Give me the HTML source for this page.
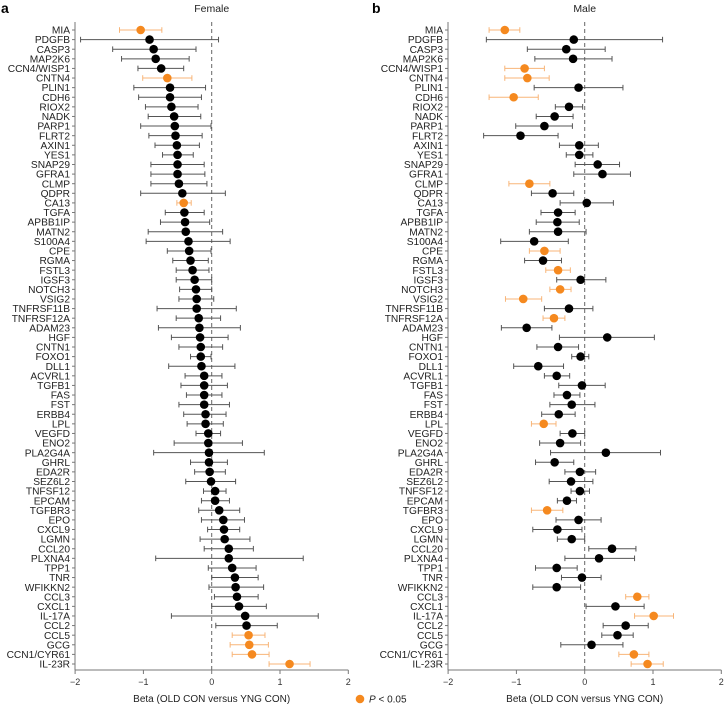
<!DOCTYPE html>
<html><head><meta charset="utf-8"><style>
html,body{margin:0;padding:0;background:#fff;}
svg{display:block;font-family:"Liberation Sans",sans-serif;}
</style></head><body>
<svg id="chart" width="724" height="706" viewBox="0 0 724 706"></svg>
<script>
const genes = ["MIA","PDGFB","CASP3","MAP2K6","CCN4/WISP1","CNTN4","PLIN1","CDH6","RIOX2","NADK","PARP1","FLRT2","AXIN1","YES1","SNAP29","GFRA1","CLMP","QDPR","CA13","TGFA","APBB1IP","MATN2","S100A4","CPE","RGMA","FSTL3","IGSF3","NOTCH3","VSIG2","TNFRSF11B","TNFRSF12A","ADAM23","HGF","CNTN1","FOXO1","DLL1","ACVRL1","TGFB1","FAS","FST","ERBB4","LPL","VEGFD","ENO2","PLA2G4A","GHRL","EDA2R","SEZ6L2","TNFSF12","EPCAM","TGFBR3","EPO","CXCL9","LGMN","CCL20","PLXNA4","TPP1","TNR","WFIKKN2","CCL3","CXCL1","IL-17A","CCL2","CCL5","GCG","CCN1/CYR61","IL-23R"];
const femaleBeta = [-1.04,-0.91,-0.85,-0.82,-0.74,-0.65,-0.61,-0.61,-0.59,-0.55,-0.54,-0.53,-0.51,-0.5,-0.5,-0.5,-0.48,-0.43,-0.41,-0.4,-0.39,-0.38,-0.34,-0.33,-0.31,-0.28,-0.25,-0.23,-0.22,-0.22,-0.19,-0.18,-0.17,-0.16,-0.16,-0.15,-0.11,-0.11,-0.11,-0.11,-0.09,-0.09,-0.05,-0.05,-0.04,-0.04,-0.03,-0.01,0.05,0.05,0.11,0.17,0.18,0.19,0.25,0.25,0.3,0.34,0.35,0.37,0.4,0.49,0.51,0.54,0.55,0.59,1.14];
const femaleLo = [-1.35,-1.92,-1.45,-1.32,-1.08,-1.01,-1.14,-1.07,-0.97,-0.93,-1.04,-0.92,-0.83,-0.72,-0.89,-0.89,-0.89,-1.04,-0.51,-0.68,-0.75,-0.93,-0.96,-0.65,-0.57,-0.52,-0.52,-0.47,-0.48,-0.8,-0.52,-0.78,-0.59,-0.48,-0.31,-0.63,-0.39,-0.45,-0.37,-0.48,-0.41,-0.36,-0.23,-0.55,-0.85,-0.31,-0.25,-0.38,-0.12,-0.15,-0.19,-0.15,-0.06,-0.17,-0.11,-0.82,-0.05,0,-0.04,0.04,0,-0.59,0.06,0.3,0.27,0.3,0.84];
const femaleHi = [-0.73,0.1,-0.23,-0.33,-0.41,-0.29,-0.09,-0.15,-0.2,-0.16,-0.01,-0.14,-0.18,-0.27,-0.11,-0.1,-0.07,0.2,-0.3,-0.11,-0.03,0.16,0.27,-0.01,-0.05,-0.04,0,0,0.03,0.36,0.13,0.42,0.24,0.16,-0.01,0.34,0.15,0.23,0.15,0.26,0.21,0.17,0.13,0.45,0.77,0.23,0.2,0.35,0.21,0.26,0.41,0.48,0.41,0.56,0.61,1.34,0.65,0.68,0.76,0.68,0.8,1.56,0.96,0.78,0.83,0.84,1.44];
const femaleSig = [1,0,0,0,0,1,0,0,0,0,0,0,0,0,0,0,0,0,1,0,0,0,0,0,0,0,0,0,0,0,0,0,0,0,0,0,0,0,0,0,0,0,0,0,0,0,0,0,0,0,0,0,0,0,0,0,0,0,0,0,0,0,0,1,1,1,1];
const maleBeta = [-1.17,-0.16,-0.27,-0.17,-0.88,-0.84,-0.09,-1.04,-0.23,-0.44,-0.59,-0.94,-0.08,-0.08,0.19,0.26,-0.81,-0.47,0.03,-0.39,-0.4,-0.39,-0.74,-0.59,-0.61,-0.39,-0.06,-0.36,-0.9,-0.23,-0.45,-0.85,0.33,-0.39,-0.06,-0.68,-0.41,-0.04,-0.26,-0.19,-0.38,-0.6,-0.18,-0.36,0.31,-0.44,-0.07,-0.2,-0.07,-0.26,-0.55,-0.09,-0.4,-0.19,0.4,0.21,-0.41,-0.04,-0.41,0.77,0.45,1.01,0.6,0.48,0.1,0.72,0.92];
const maleLo = [-1.4,-1.44,-0.84,-0.73,-1.17,-1.17,-0.74,-1.4,-0.43,-0.71,-1.01,-1.48,-0.37,-0.27,-0.14,-0.16,-1.11,-0.78,-0.36,-0.64,-0.71,-0.81,-1.23,-0.81,-0.88,-0.57,-0.41,-0.51,-1.16,-0.59,-0.61,-1.22,-0.37,-0.7,-0.19,-1.04,-0.59,-0.38,-0.45,-0.51,-0.63,-0.78,-0.36,-0.66,-0.5,-0.72,-0.29,-0.52,-0.2,-0.4,-0.78,-0.42,-0.76,-0.4,0.06,-0.29,-0.72,-0.34,-0.76,0.6,0.02,0.73,0.27,0.25,-0.35,0.5,0.68];
const maleHi = [-0.95,1.14,0.3,0.4,-0.59,-0.52,0.56,-0.68,-0.03,-0.17,-0.18,-0.39,0.2,0.12,0.51,0.67,-0.51,-0.16,0.42,-0.14,-0.08,0.02,-0.24,-0.36,-0.34,-0.21,0.31,-0.2,-0.63,0.12,-0.29,-0.48,1.02,-0.09,0.06,-0.31,-0.22,0.3,-0.07,0.15,-0.14,-0.42,0,-0.06,1.11,-0.16,0.16,0.12,0.07,-0.12,-0.32,0.24,-0.04,0,0.75,0.73,-0.11,0.24,-0.06,0.94,0.87,1.3,0.93,0.71,0.56,0.94,1.15];
const maleSig = [1,0,0,0,1,1,0,1,0,0,0,0,0,0,0,0,1,0,0,0,0,0,0,1,0,1,0,1,1,0,1,0,0,0,0,0,0,0,0,0,0,1,0,0,0,0,0,0,0,0,1,0,0,0,0,0,0,0,0,1,0,1,0,0,0,1,1];
const xTicks = [-2,-1,0,1,2];

const NS="http://www.w3.org/2000/svg";
const svg=document.getElementById('chart');
function mk(tag,attrs,parent){const e=document.createElementNS(NS,tag);for(const k in attrs)e.setAttribute(k,attrs[k]);(parent||svg).appendChild(e);return e;}
const Y0=30, Y1=664;
function yPos(i){return Y0+(Y1-Y0)*i/(genes.length-1);}

function panel(ax0,title,letter,beta,lo,hi,sig,key){
  const xs=v=>ax0+136.7+v*68.3;
  const g=mk('g',{});
  
  
  const lt=mk('text',{x:key==='female'?1:372,y:13,'font-size':14,'font-weight':'bold'},g);
  lt.textContent=letter;
  
  
  const tt=mk('text',{x:xs(0),y:12,'font-size':10.5,'text-anchor':'middle',fill:'#222'},g);
  tt.textContent=title;
  
  
  const ya=mk('line',{x1:ax0,y1:22,x2:ax0,y2:670,stroke:'#777','stroke-width':1},g);
  
  
  const xa=mk('line',{x1:ax0,y1:670,x2:xs(2),y2:670,stroke:'#777','stroke-width':1},g);
  
  
  const zl=mk('line',{x1:xs(0),y1:22,x2:xs(0),y2:670,stroke:'#666','stroke-width':1,'stroke-dasharray':'4,3'},g);
  
  
  xTicks.forEach(t=>{
    mk('line',{x1:xs(t),y1:670,x2:xs(t),y2:674,stroke:'#777'},g);
    const tl=mk('text',{x:xs(t),y:685,'font-size':9,'text-anchor':'middle',fill:'#333'},g);
    tl.textContent=(t<0?'\u2212'+(-t):String(t));
    
    
  });
  const xl=mk('text',{x:xs(0),y:702,'font-size':10,'text-anchor':'middle',fill:'#222'},g);
  xl.textContent='Beta (OLD CON versus YNG CON)';
  
  
  genes.forEach((gn,i)=>{
    const y=yPos(i);
    mk('line',{x1:ax0-3,y1:y,x2:ax0,y2:y,stroke:'#777'},g);
    const lb=mk('text',{x:ax0-5,y:y+3.6,'font-size':10.2,'text-anchor':'end',fill:'#222'},g);
    lb.textContent=gn;
    
    
    const s=sig[i];
    const ec=s?'#f8b578':'#555', dc=s?'#f5891f':'#000';
    const eg=mk('g',{stroke:ec,'stroke-width':1},g);
    
    
    mk('line',{x1:xs(lo[i]),y1:y,x2:xs(hi[i]),y2:y},eg);
    mk('line',{x1:xs(lo[i]),y1:y-2.8,x2:xs(lo[i]),y2:y+2.8},eg);
    mk('line',{x1:xs(hi[i]),y1:y-2.8,x2:xs(hi[i]),y2:y+2.8},eg);
    const c=mk('circle',{cx:xs(beta[i]),cy:y,r:4.3,fill:dc},g);
    
    
  });
}
panel(75,'Female','a',femaleBeta,femaleLo,femaleHi,femaleSig,'female');
panel(448,'Male','b',maleBeta,maleLo,maleHi,maleSig,'male');
const lg=mk('g',{});


mk('circle',{cx:360,cy:699,r:4.3,fill:'#f5891f'},lg);
const lgt=mk('text',{x:369,y:702.5,'font-size':10,fill:'#222'},lg);
lgt.innerHTML='<tspan font-style="italic">P</tspan> &lt; 0.05';
</script>
</body></html>
